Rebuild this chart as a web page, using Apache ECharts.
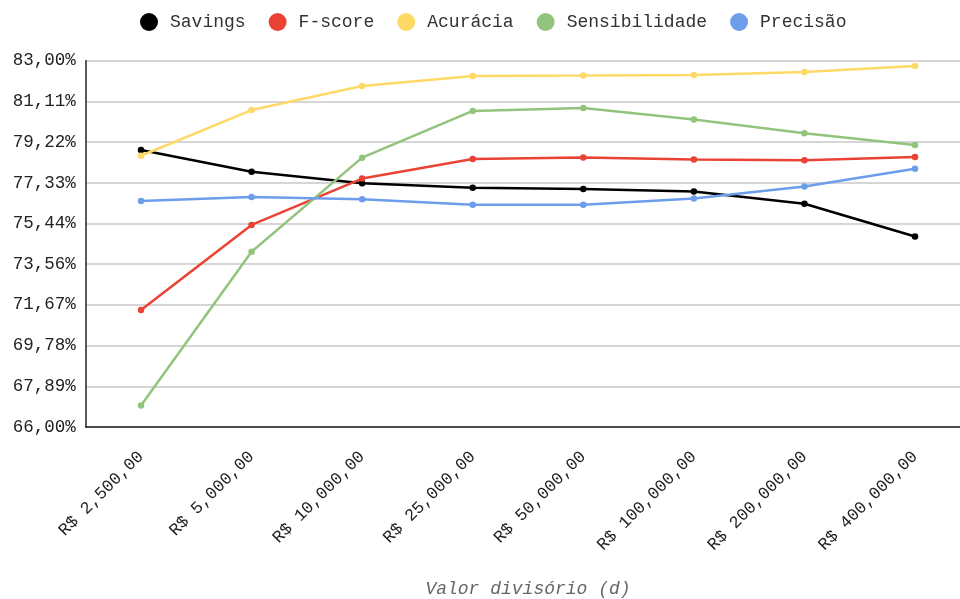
<!DOCTYPE html>
<html>
<head>
<meta charset="utf-8">
<script src="https://cdn.jsdelivr.net/npm/echarts@6/dist/echarts.min.js"></script>
<style>
  html, body { margin: 0; padding: 0; background: #fff; }
  #chart { width: 960px; height: 599px; }
</style>
</head>
<body>
<div id="chart"></div>
<script>
// Split value (d) on the x axis
const categories = ['R$ 2,500,00', 'R$ 5,000,00', 'R$ 10,000,00', 'R$ 25,000,00',
  'R$ 50,000,00', 'R$ 100,000,00', 'R$ 200,000,00', 'R$ 400,000,00'];

// Metrics in percent
const savings        = [78.86, 77.85, 77.31, 77.10, 77.05, 76.93, 76.36, 74.84];
const fScore         = [71.43, 75.38, 77.53, 78.44, 78.51, 78.42, 78.38, 78.53];
const acuracia       = [78.59, 80.71, 81.83, 82.29, 82.31, 82.34, 82.48, 82.75];
const sensibilidade  = [67.00, 74.13, 78.50, 80.67, 80.81, 80.27, 79.63, 79.09];
const precisao       = [76.49, 76.67, 76.57, 76.31, 76.31, 76.61, 77.16, 77.99];

// Y axis tick values
const yTicks = [66.00, 67.89, 69.78, 71.67, 73.56, 75.44, 77.33, 79.22, 81.11, 83.00];

const FONT = '"Liberation Mono", "Courier New", monospace';

function line(name, data, color) {
  return {
    name: name,
    type: 'line',
    data: data,
    symbol: 'circle',
    symbolSize: 6.5,
    lineStyle: { width: 2.5, color: color },
    itemStyle: { color: color },
    emphasis: { disabled: true }
  };
}

const chart = echarts.init(document.getElementById('chart'), null, { renderer: 'canvas' });
chart.setOption({
  animation: false,
  backgroundColor: '#ffffff',
  legend: {
    top: 8,
    left: 135,
    icon: 'circle',
    itemWidth: 18,
    itemHeight: 18,
    itemGap: 23,
    textStyle: { fontFamily: FONT, fontSize: 18, color: '#333', padding: [0, 0, 0, 7] },
    data: ['Savings', 'F-score', 'Acurácia', 'Sensibilidade', 'Precisão']
  },
  grid: {
    left: 85.7, width: 884.6, top: 60.7, bottom: 172,
    containLabel: false,
    outerBoundsMode: 'none'
  },
  xAxis: {
    type: 'category',
    data: categories,
    boundaryGap: true,
    axisLine: { lineStyle: { color: '#222', width: 1.5 } },
    axisTick: { alignWithLabel: true, length: 8, lineStyle: { color: '#222', width: 1.5 } },
    axisLabel: { rotate: 45, fontFamily: FONT, fontSize: 17, color: '#222', margin: 27, interval: 0 },
    name: 'Valor divisório (d)',
    nameLocation: 'middle',
    nameGap: 153,
    nameTextStyle: { fontFamily: FONT, fontSize: 18, fontStyle: 'italic', color: '#666' }
  },
  yAxis: {
    type: 'value',
    min: 66,
    max: 83,
    axisLine: { show: true, lineStyle: { color: '#222', width: 1.5 } },
    axisTick: { show: false, customValues: yTicks },
    axisLabel: {
      customValues: yTicks,
      fontFamily: FONT, fontSize: 17.5, color: '#222', margin: 10,
      formatter: v => v.toFixed(2).replace('.', ',') + '%'
    },
    splitLine: { show: true, lineStyle: { color: '#d6d6d6', width: 2 } }
  },
  series: [
    line('Savings', savings, '#000000'),
    line('F-score', fScore, '#ea4335'),
    line('Acurácia', acuracia, '#ffd966'),
    line('Sensibilidade', sensibilidade, '#93c47d'),
    line('Precisão', precisao, '#6d9eeb')
  ]
});
</script>
</body>
</html>
